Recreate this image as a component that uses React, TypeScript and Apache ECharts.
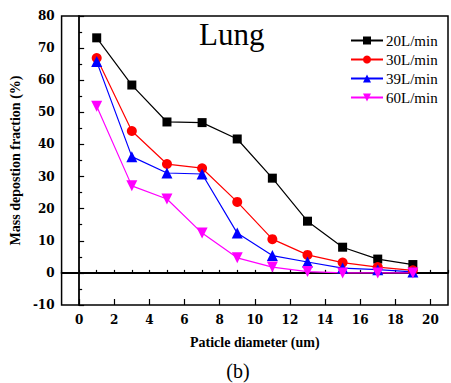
import React, { useEffect, useRef } from "react";
import * as echarts from "echarts";

const diameters = [1, 3, 5, 7, 9, 11, 13, 15, 17, 19];
const flow20 = [73.2, 58.5, 47.0, 46.8, 41.7, 29.5, 16.1, 8.0, 4.3, 2.6];
const flow30 = [66.9, 44.2, 33.9, 32.6, 22.1, 10.5, 5.6, 3.2, 1.8, 0.8];
const flow39 = [65.8, 36.2, 31.1, 30.8, 12.4, 5.4, 3.4, 1.5, 1.0, 0.3];
const flow60 = [51.9, 27.1, 23.0, 12.4, 4.7, 1.8, 0.4, 0.0, 0.0, 0.0];
const seriesNames = ["20L/min", "30L/min", "39L/min", "60L/min"];
const majorXTicks = [0, 2, 4, 6, 8, 10, 12, 14, 16, 18, 20];

const SERIF = "Liberation Serif";

export default function App() {
  const ref = useRef<HTMLDivElement>(null);
  useEffect(() => {
    const chart = echarts.init(ref.current!, null, { renderer: "svg" });
    const pair = (ys: number[]) => diameters.map((x, i) => [x, ys[i]]);
    const tickFont = { fontFamily: "DejaVu Serif", fontWeight: "bold" as const, fontSize: 12, color: "#000" };
    const mk = (name: string, ys: number[], color: string, symbol: string, size: number, rotate = 0) => ({
      type: "line",
      name,
      data: pair(ys),
      xAxisIndex: 0,
      symbol,
      symbolSize: size,
      symbolRotate: rotate,
      showAllSymbol: true,
      lineStyle: { color, width: 1.2 },
      itemStyle: { color, borderWidth: 0 },
    });
    chart.setOption({
      animation: false,
      title: {
        text: "Lung",
        left: 194,
        top: 14,
        textStyle: { fontFamily: SERIF, fontWeight: "normal", fontSize: 31, color: "#000" },
      },
      legend: {
        left: 345,
        top: 28,
        orient: "vertical",
        itemWidth: 32,
        itemHeight: 10,
        itemGap: 4,
        data: seriesNames,
        textStyle: { fontFamily: SERIF, fontSize: 15, color: "#000", padding: [0, 0, 0, -2] },
      },
      grid: {
        left: 59.5,
        top: 16,
        right: -2,
        bottom: 78,
        show: true,
        borderColor: "#000",
        borderWidth: 1.5,
        containLabel: false,
      },
      xAxis: [
        {
          type: "value",
          min: -1,
          max: 21,
          interval: 1,
          position: "bottom",
          name: "Paticle diameter (um)",
          nameLocation: "middle",
          nameGap: 30,
          nameTextStyle: { fontFamily: SERIF, fontWeight: "bold", fontSize: 14, color: "#000" },
          axisLine: { lineStyle: { color: "#000", width: 1.8 } },
          axisTick: { inside: true, length: 3, lineStyle: { color: "#000", width: 1.2 } },
          axisLabel: {
            ...tickFont,
            margin: 9,
            formatter: (v: number) => (Math.round(v) % 2 === 0 ? String(v) : ""),
          },
          splitLine: { show: false },
        },
        {
          type: "value",
          min: -1,
          max: 21,
          interval: 1,
          position: "bottom",
          axisLine: { show: false },
          axisTick: { inside: true, length: 6, customValues: majorXTicks, lineStyle: { color: "#000", width: 1.2 } },
          axisLabel: { show: false },
          splitLine: { show: false },
        },
      ],
      yAxis: {
        type: "value",
        min: -10,
        max: 80,
        interval: 10,
        name: "Mass depostion fraction (%)",
        nameLocation: "middle",
        nameGap: 34,
        nameTextStyle: { fontFamily: SERIF, fontWeight: "bold", fontSize: 14, color: "#000" },
        axisLine: { lineStyle: { color: "#000", width: 1.8 } },
        axisTick: { inside: true, length: 5, lineStyle: { color: "#000", width: 1.2 } },
        minorTick: { show: true, splitNumber: 2, length: 3, lineStyle: { color: "#000", width: 1.2 } },
        axisLabel: { ...tickFont, margin: 7 },
        splitLine: { show: false },
        minorSplitLine: { show: false },
      },
      graphic: [
        {
          type: "text",
          x: 238,
          y: 371,
          style: {
            text: "(b)",
            fontFamily: SERIF,
            fontSize: 20,
            fill: "#000",
            align: "center",
            verticalAlign: "middle",
          },
        },
      ],
      series: [
        mk(seriesNames[0], flow20, "#000000", "rect", 9),
        mk(seriesNames[1], flow30, "#ff0000", "circle", 10),
        mk(seriesNames[2], flow39, "#0000ff", "triangle", 11),
        mk(seriesNames[3], flow60, "#ff00ff", "triangle", 11, 180),
      ],
    });
    return () => chart.dispose();
  }, []);
  return <div ref={ref} style={{ position: "absolute", left: 0, top: 0, width: 451, height: 383 }} />;
}
